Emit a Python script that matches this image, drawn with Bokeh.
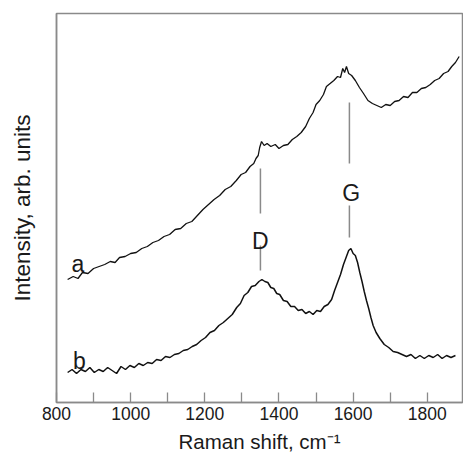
from bokeh.plotting import figure
from bokeh.models import FixedTicker, Range1d
from bokeh.core.properties import value
from bokeh.embed import file_html
from bokeh.resources import INLINE

# Spectrum a (Raman shift, cm^-1 / intensity, arb. units)
raman_a = [830, 845, 858, 870, 885, 900, 915, 930, 945, 958, 970, 985, 1000, 1015, 1030,
           1045, 1060, 1075, 1090, 1105, 1120, 1135, 1150, 1165, 1180, 1195, 1210, 1225,
           1240, 1255, 1270, 1285, 1298, 1310, 1322, 1332, 1338, 1344, 1348, 1353, 1360,
           1368, 1378, 1390, 1400, 1412, 1424, 1436, 1448, 1460, 1472, 1482, 1492, 1500,
           1510, 1520, 1528, 1538, 1548, 1558, 1566, 1572, 1577, 1582, 1588, 1596, 1606,
           1617, 1628, 1640, 1652, 1664, 1676, 1688, 1700, 1712, 1724, 1736, 1748, 1760,
           1772, 1784, 1796, 1808, 1820, 1832, 1844, 1856, 1866, 1876, 1886]
int_a = [123, 126, 124, 130, 129, 134, 136, 138, 141, 140, 145, 146, 149, 150, 154,
         156, 160, 162, 166, 168, 173, 174, 179, 181, 187, 193, 198, 203,
         207, 213, 216, 222, 228, 230, 236, 239, 244, 247, 255, 261, 257,
         259, 256, 258, 254, 257, 258, 263, 266, 270, 276, 284, 290, 298,
         302, 308, 316, 319, 322, 326, 325, 334, 330, 336, 329, 327, 322,
         315, 309, 302, 299, 297, 295, 298, 297, 301, 302, 306, 305, 310,
         310, 314, 315, 318, 322, 324, 329, 331, 336, 340, 346]

# Spectrum b
raman_b = [830, 842, 854, 866, 878, 890, 902, 914, 926, 938, 950, 962, 974, 986, 998,
           1010, 1022, 1034, 1046, 1058, 1070, 1082, 1094, 1106, 1118, 1130, 1142, 1154,
           1166, 1178, 1190, 1202, 1214, 1226, 1238, 1250, 1262, 1274, 1286, 1296, 1306,
           1316, 1326, 1336, 1346, 1354, 1362, 1370, 1378, 1386, 1394, 1402, 1412, 1422,
           1432, 1442, 1452, 1462, 1472, 1482, 1492, 1502, 1512, 1522, 1532, 1542, 1550,
           1558, 1566, 1574, 1582, 1588, 1594, 1600, 1606, 1612, 1618, 1624, 1630, 1636,
           1642, 1648, 1654, 1662, 1672, 1684, 1696, 1708, 1720, 1732, 1744, 1756, 1768,
           1780, 1792, 1804, 1816, 1828, 1840, 1852, 1864, 1876]
int_b = [30, 33, 29, 33, 31, 35, 30, 33, 31, 35, 32, 29, 36, 33, 37,
         35, 39, 37, 40, 39, 43, 42, 46, 45, 48, 49, 52, 53,
         56, 58, 62, 65, 70, 72, 77, 80, 84, 88, 95, 99, 107,
         110, 116, 117, 121, 123, 121, 120, 115, 114, 109, 108, 102, 101,
         96, 96, 92, 93, 89, 91, 88, 92, 91, 96, 98, 103, 112,
         120, 128, 138, 146, 152, 154, 149, 147, 140, 130, 121, 111, 102,
         94, 85, 77, 70, 64, 58, 55, 51, 50, 48, 46, 48, 44,
         47, 44, 47, 45, 48, 44, 47, 45, 47]

# Band markers
band_names = ["D", "G"]
band_pos = [1350, 1590]

x_ticks = [800, 1000, 1200, 1400, 1600, 1800]
x_minor = [900, 1100, 1300, 1500, 1700, 1900]

FONT = "Liberation Sans"
GRAY = "#8a8a8a"
INK = "#1a1a1a"

p = figure(width=463, height=455, output_backend="svg", toolbar_location=None,
           x_range=Range1d(800, 1895), y_range=Range1d(0, 389),
           min_border_left=56, min_border_right=1, min_border_top=13, min_border_bottom=53)
p.grid.visible = False
p.background_fill_color = "white"
p.border_fill_color = "white"
p.outline_line_color = GRAY
p.outline_line_width = 1.5

xa = p.xaxis[0]
xa.ticker = FixedTicker(ticks=x_ticks, minor_ticks=x_minor)
xa.axis_line_color = GRAY
xa.axis_line_width = 1.5
xa.major_tick_in = 10
xa.major_tick_out = 0
xa.minor_tick_in = 10
xa.minor_tick_out = 0
xa.major_tick_line_color = GRAY
xa.minor_tick_line_color = GRAY
xa.major_tick_line_width = 1.3
xa.minor_tick_line_width = 1.3
xa.major_label_text_font = FONT
xa.major_label_text_font_size = "17.5px"
xa.major_label_text_color = INK
xa.major_label_standoff = 4
xa.axis_label = "Raman shift, cm\u207b\u00b9"
xa.axis_label_text_font = FONT
xa.axis_label_text_font_size = "20.5px"
xa.axis_label_text_font_style = "normal"
xa.axis_label_text_color = INK
xa.axis_label_standoff = 7

ya = p.yaxis[0]
ya.ticker = FixedTicker(ticks=[])
ya.axis_line_color = GRAY
ya.axis_line_width = 1.5
ya.major_label_text_font_size = "0px"
ya.axis_label = "Intensity, arb. units"
ya.axis_label_text_font = FONT
ya.axis_label_text_font_size = "22.5px"
ya.axis_label_text_font_style = "normal"
ya.axis_label_text_color = INK
ya.axis_label_standoff = 22

p.line(raman_a, int_a, line_color="#111111", line_width=1.3)
p.line(raman_b, int_b, line_color="#111111", line_width=1.5)

# marker lines
p.segment(x0=[band_pos[0], band_pos[0], band_pos[1], band_pos[1]],
          y0=[234, 157, 300, 197],
          x1=[band_pos[0], band_pos[0], band_pos[1], band_pos[1]],
          y1=[189, 132, 239, 165],
          line_color=GRAY, line_width=1.5)

p.text(x=[band_pos[0], band_pos[1] + 5], y=[162, 210], text=band_names,
       text_align="center", text_baseline="alphabetic",
       text_font=value(FONT), text_font_size="23px", text_color=INK)
p.text(x=[858, 862], y=[139, 42], text=["a", "b"],
       text_align="center", text_baseline="alphabetic",
       text_font=value(FONT), text_font_size="23px", text_color=INK)

open("out.html", "w").write(file_html(p, INLINE))
